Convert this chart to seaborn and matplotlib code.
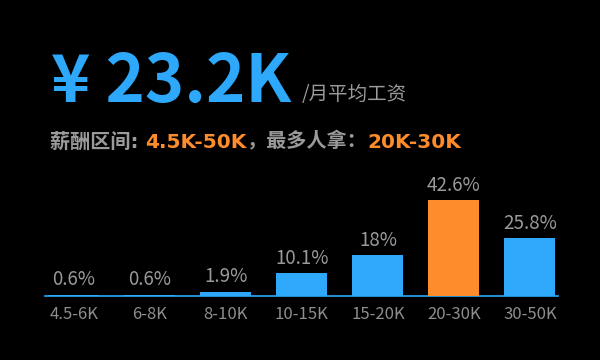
import seaborn as sns
import matplotlib.pyplot as plt

sns.set_theme(style="dark")
plt.rcParams['font.family'] = ['Noto Sans CJK SC', 'DejaVu Sans']

# salary bands and share of postings (%)
bands = ['4.5-6K', '6-8K', '8-10K', '10-15K', '15-20K', '20-30K', '30-50K']
shares = [0.6, 0.6, 1.9, 10.1, 18, 42.6, 25.8]
top_band = '20-30K'

avg_salary = '¥ 23.2K'
avg_unit = '/月平均工资'
range_text = '4.5K-50K'
top_text = '20K-30K'

BLUE = '#2DA8FA'
ORANGE = '#FF8C2B'
GREY = '#9A9A9A'
BG = '#000000'

fig = plt.figure(figsize=(6, 3.6), dpi=100, facecolor=BG)
ax = fig.add_axes([0.075, 0.178, 0.855, 0.282])
ax.set_facecolor(BG)

colors = [ORANGE if b == top_band else BLUE for b in bands]
sns.barplot(x=bands, y=shares, hue=bands, palette=colors, legend=False,
            width=0.67, saturation=1, linewidth=0, ax=ax)

for i, v in enumerate(shares):
    ax.annotate(f'{v:g}%', xy=(i, v), xytext=(0, 3), textcoords='offset points',
                ha='center', va='bottom', color=GREY, fontsize=13.5)

ax.set_xlim(-0.38, 6.37)
ax.set_ylim(0, 45)
ax.set_yticks([])
ax.grid(False)
for s in ['top', 'left', 'right']:
    ax.spines[s].set_visible(False)
ax.spines['bottom'].set_color(BLUE)
ax.spines['bottom'].set_linewidth(1.2)
ax.spines['bottom'].set_zorder(0.5)
ax.tick_params(axis='x', colors='#8E8E8E', labelsize=12, length=0, pad=7)

# headline
fig.text(0.085, 0.718, avg_salary, color=BLUE, fontsize=48,
         fontweight='bold', va='baseline')
fig.text(0.503, 0.722, avg_unit, color=GREY, fontsize=14, va='baseline')

# subtitle with coloured pieces
sub_font = ['DejaVu Sans', 'Noto Sans CJK SC']
parts = [('薪酬区间: ', GREY), (range_text, ORANGE), ('，最多人拿：', GREY), (top_text, ORANGE)]
prev = fig.text(0.083, 0.59, parts[0][0], color=parts[0][1], fontsize=14.5,
                fontweight='bold', va='baseline', family=sub_font)
for txt, col in parts[1:]:
    prev = ax.annotate(txt, xy=(1, 0), xycoords=prev, color=col, fontsize=14.5,
                       fontweight='bold', va='bottom', family=sub_font,
                       annotation_clip=False)

fig.savefig('out.png', dpi=100, facecolor=BG)
